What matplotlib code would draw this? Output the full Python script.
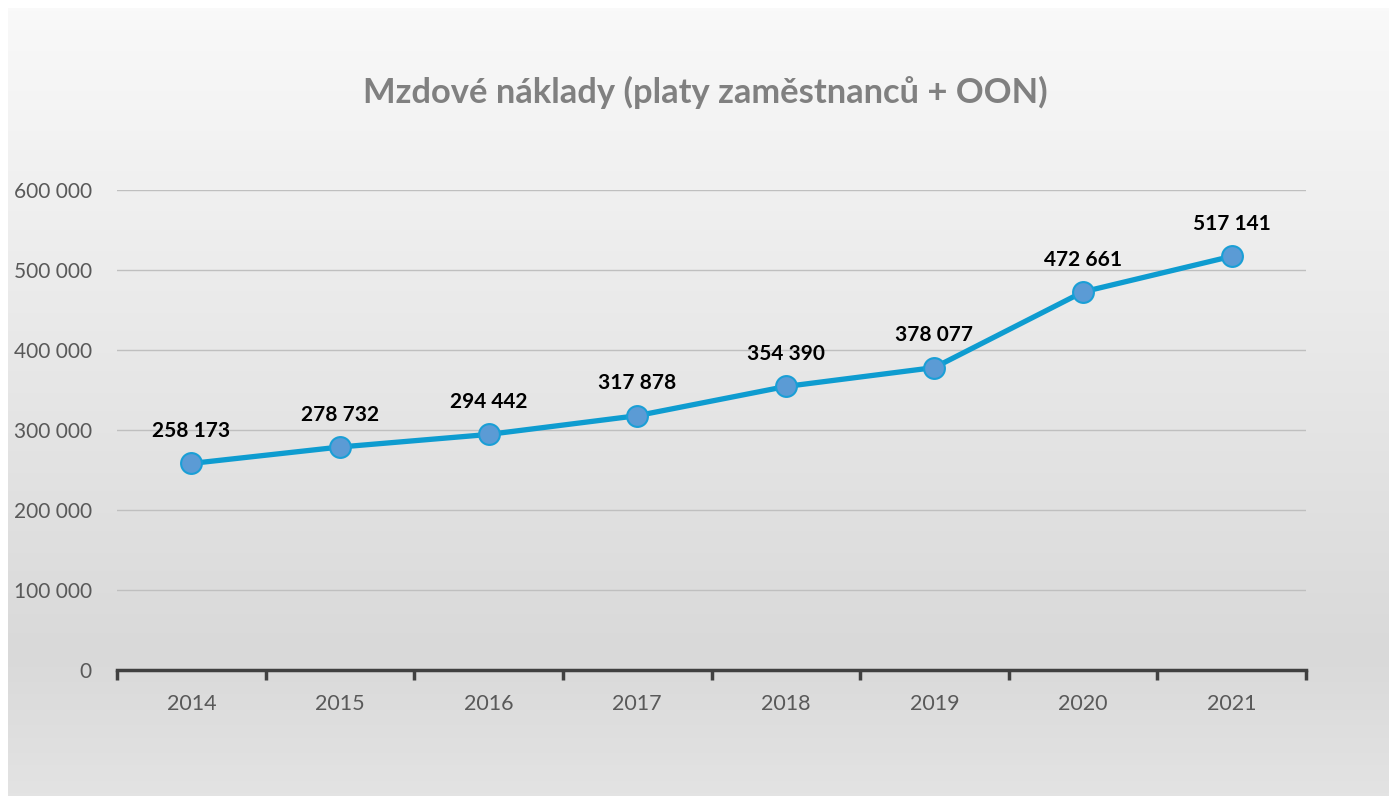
import numpy as np
import matplotlib
matplotlib.use("Agg")
import matplotlib.pyplot as plt
from matplotlib.colors import LinearSegmentedColormap

years = ["2014", "2015", "2016", "2017", "2018", "2019", "2020", "2021"]
costs = [258173, 278732, 294442, 317878, 354390, 378077, 472661, 517141]
yticks = [0, 100000, 200000, 300000, 400000, 500000, 600000]

def fmt(v):
    return f"{v:,}".replace(",", " ")

plt.rcParams['font.family'] = ['Lato', 'DejaVu Sans']

fig = plt.figure(figsize=(13.89, 7.96), dpi=100)
fig.patch.set_facecolor("white")

# gradient background of chart area
bg = fig.add_axes([8 / 1389, 0, 1 - 8 / 1389, 1 - 8 / 796], zorder=-10)
cmap = LinearSegmentedColormap.from_list(
    "bg", [(0.0, "#f9f9f9"), (0.82, "#d9d9d9"), (1.0, "#e3e3e3")])
grad = np.linspace(0, 1, 256).reshape(-1, 1)
bg.imshow(grad, aspect="auto", cmap=cmap, extent=[0, 1, 1, 0])
bg.set_axis_off()

ax = fig.add_axes([117 / 1389, 1 - 670 / 796, (1306 - 117) / 1389, (670 - 190) / 796])
ax.patch.set_alpha(0)

x = np.arange(len(years))
ax.plot(x, costs, color="#0e9cd0", lw=3.8, marker="o", markersize=15,
        markerfacecolor="#5b9bd5", markeredgecolor="#1a9fd6", markeredgewidth=1.5,
        clip_on=False, zorder=3)

for xi, v in zip(x, costs):
    ax.annotate(fmt(v), (xi, v), xytext=(0, 16), textcoords="offset points",
                ha="center", va="bottom", fontsize=15, fontweight="bold", color="black")

ax.set_xlim(-0.5, len(years) - 0.5)
ax.set_ylim(0, 600000)
ax.set_yticks(yticks)
ax.set_yticklabels([fmt(t) for t in yticks])
ax.yaxis.grid(True, color="#bfbfbf", lw=1)
ax.set_axisbelow(True)
ax.tick_params(axis="y", length=0, labelsize=15, labelcolor="#595959", pad=18)

ax.set_xticks(x)
ax.set_xticklabels(years)
ax.tick_params(axis="x", which="major", length=0, labelsize=15.5, labelcolor="#595959", pad=17)
ax.set_xticks(np.arange(-0.5, len(years), 1), minor=True)
ax.tick_params(axis="x", which="minor", length=7, width=2.5, color="#404040", direction="out")

for s in ["top", "right", "left"]:
    ax.spines[s].set_visible(False)
ax.spines["bottom"].set_color("#404040")
ax.spines["bottom"].set_linewidth(2.5)

fig.text(705 / 1389, 1 - 92 / 796, "Mzdové náklady (platy zaměstnanců + OON)",
         ha="center", va="center", fontsize=24.8, fontweight="bold", color="#808080")

fig.savefig("out.png", dpi=100)
